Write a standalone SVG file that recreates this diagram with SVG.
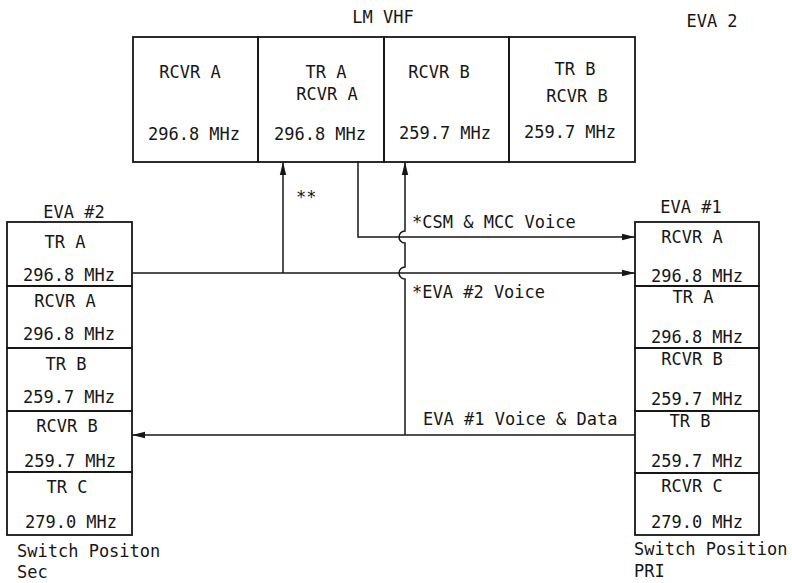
<svg xmlns="http://www.w3.org/2000/svg" width="792" height="583" viewBox="0 0 792 583">
<style>
text{font-family:"DejaVu Sans Mono","Liberation Mono",monospace;font-size:17px;fill:#161616}
.c{text-anchor:middle}
.box{fill:none;stroke:#161616;stroke-width:1.8}
.ln{fill:none;stroke:#161616;stroke-width:1.5}
</style>
<defs>
<marker id="ah" markerUnits="userSpaceOnUse" markerWidth="13" markerHeight="8" refX="13" refY="4" orient="auto">
<path d="M0,0.8 L13,4 L0,7.2 z" fill="#161616"/>
</marker>
</defs>
<rect width="792" height="583" fill="#fff"/>

<text x="712" y="27" class="c">EVA 2</text>
<text x="383" y="23" class="c">LM VHF</text>

<g id="lm-rcvr-a">
<rect class="box" x="133" y="37" width="125" height="125"/>
<text x="190" y="78" class="c">RCVR A</text>
<text x="194" y="140" class="c">296.8 MHz</text>
</g>
<g id="lm-tr-a">
<rect class="box" x="258" y="37" width="126" height="125"/>
<text x="326" y="78" class="c">TR A</text>
<text x="327" y="100" class="c">RCVR A</text>
<text x="320" y="140" class="c">296.8 MHz</text>
</g>
<g id="lm-rcvr-b">
<rect class="box" x="384" y="37" width="125" height="125"/>
<text x="439" y="78" class="c">RCVR B</text>
<text x="445" y="139" class="c">259.7 MHz</text>
</g>
<g id="lm-tr-b">
<rect class="box" x="509" y="37" width="126" height="125"/>
<text x="575" y="75" class="c">TR B</text>
<text x="577" y="102" class="c">RCVR B</text>
<text x="570" y="138" class="c">259.7 MHz</text>
</g>

<text x="74" y="218" class="c">EVA #2</text>
<g id="eva2-tr-a">
<rect class="box" x="7" y="222" width="125" height="64"/>
<text x="65" y="248" class="c">TR A</text>
<text x="69" y="281" class="c">296.8 MHz</text>
</g>
<g id="eva2-rcvr-a">
<rect class="box" x="7" y="286" width="125" height="62"/>
<text x="65" y="307" class="c">RCVR A</text>
<text x="69" y="340" class="c">296.8 MHz</text>
</g>
<g id="eva2-tr-b">
<rect class="box" x="7" y="348" width="125" height="63"/>
<text x="66" y="370" class="c">TR B</text>
<text x="69" y="403" class="c">259.7 MHz</text>
</g>
<g id="eva2-rcvr-b">
<rect class="box" x="7" y="411" width="125" height="61"/>
<text x="67" y="432" class="c">RCVR B</text>
<text x="70" y="467" class="c">259.7 MHz</text>
</g>
<g id="eva2-tr-c">
<rect class="box" x="7" y="472" width="125" height="63"/>
<text x="67" y="493" class="c">TR C</text>
<text x="71" y="528" class="c">279.0 MHz</text>
</g>
<text x="17" y="557">Switch Positon</text>
<text x="17" y="578">Sec</text>

<text x="691" y="213" class="c">EVA #1</text>
<g id="eva1-rcvr-a">
<rect class="box" x="635" y="222" width="124" height="64"/>
<text x="692" y="243" class="c">RCVR A</text>
<text x="697" y="282" class="c">296.8 MHz</text>
</g>
<g id="eva1-tr-a">
<rect class="box" x="635" y="286" width="124" height="62"/>
<text x="693" y="303" class="c">TR A</text>
<text x="697" y="343" class="c">296.8 MHz</text>
</g>
<g id="eva1-rcvr-b">
<rect class="box" x="635" y="348" width="124" height="63"/>
<text x="692" y="365" class="c">RCVR B</text>
<text x="697" y="405" class="c">259.7 MHz</text>
</g>
<g id="eva1-tr-b">
<rect class="box" x="635" y="411" width="124" height="62"/>
<text x="690" y="427" class="c">TR B</text>
<text x="697" y="467" class="c">259.7 MHz</text>
</g>
<g id="eva1-rcvr-c">
<rect class="box" x="635" y="473" width="124" height="62"/>
<text x="692" y="492" class="c">RCVR C</text>
<text x="697" y="528" class="c">279.0 MHz</text>
</g>
<text x="634" y="555">Switch Position</text>
<text x="634" y="577">PRI</text>

<g id="connectors">
<path class="ln" d="M132,273 H635" marker-end="url(#ah)"/>
<path class="ln" d="M283,273 V162" marker-end="url(#ah)"/>
<path class="ln" d="M358,162 V237 H635" marker-end="url(#ah)"/>
<path class="ln" d="M405,435 V279 A6,6 0 0 1 405,267 V243 A6,6 0 0 1 405,231 V162" marker-end="url(#ah)"/>
<path class="ln" d="M635,435 H132" marker-end="url(#ah)"/>
<text x="296" y="203">**</text>
<text x="412" y="228">*CSM &amp; MCC Voice</text>
<text x="412" y="298">*EVA #2 Voice</text>
<text x="423" y="425">EVA #1 Voice &amp; Data</text>
</g>
</svg>
